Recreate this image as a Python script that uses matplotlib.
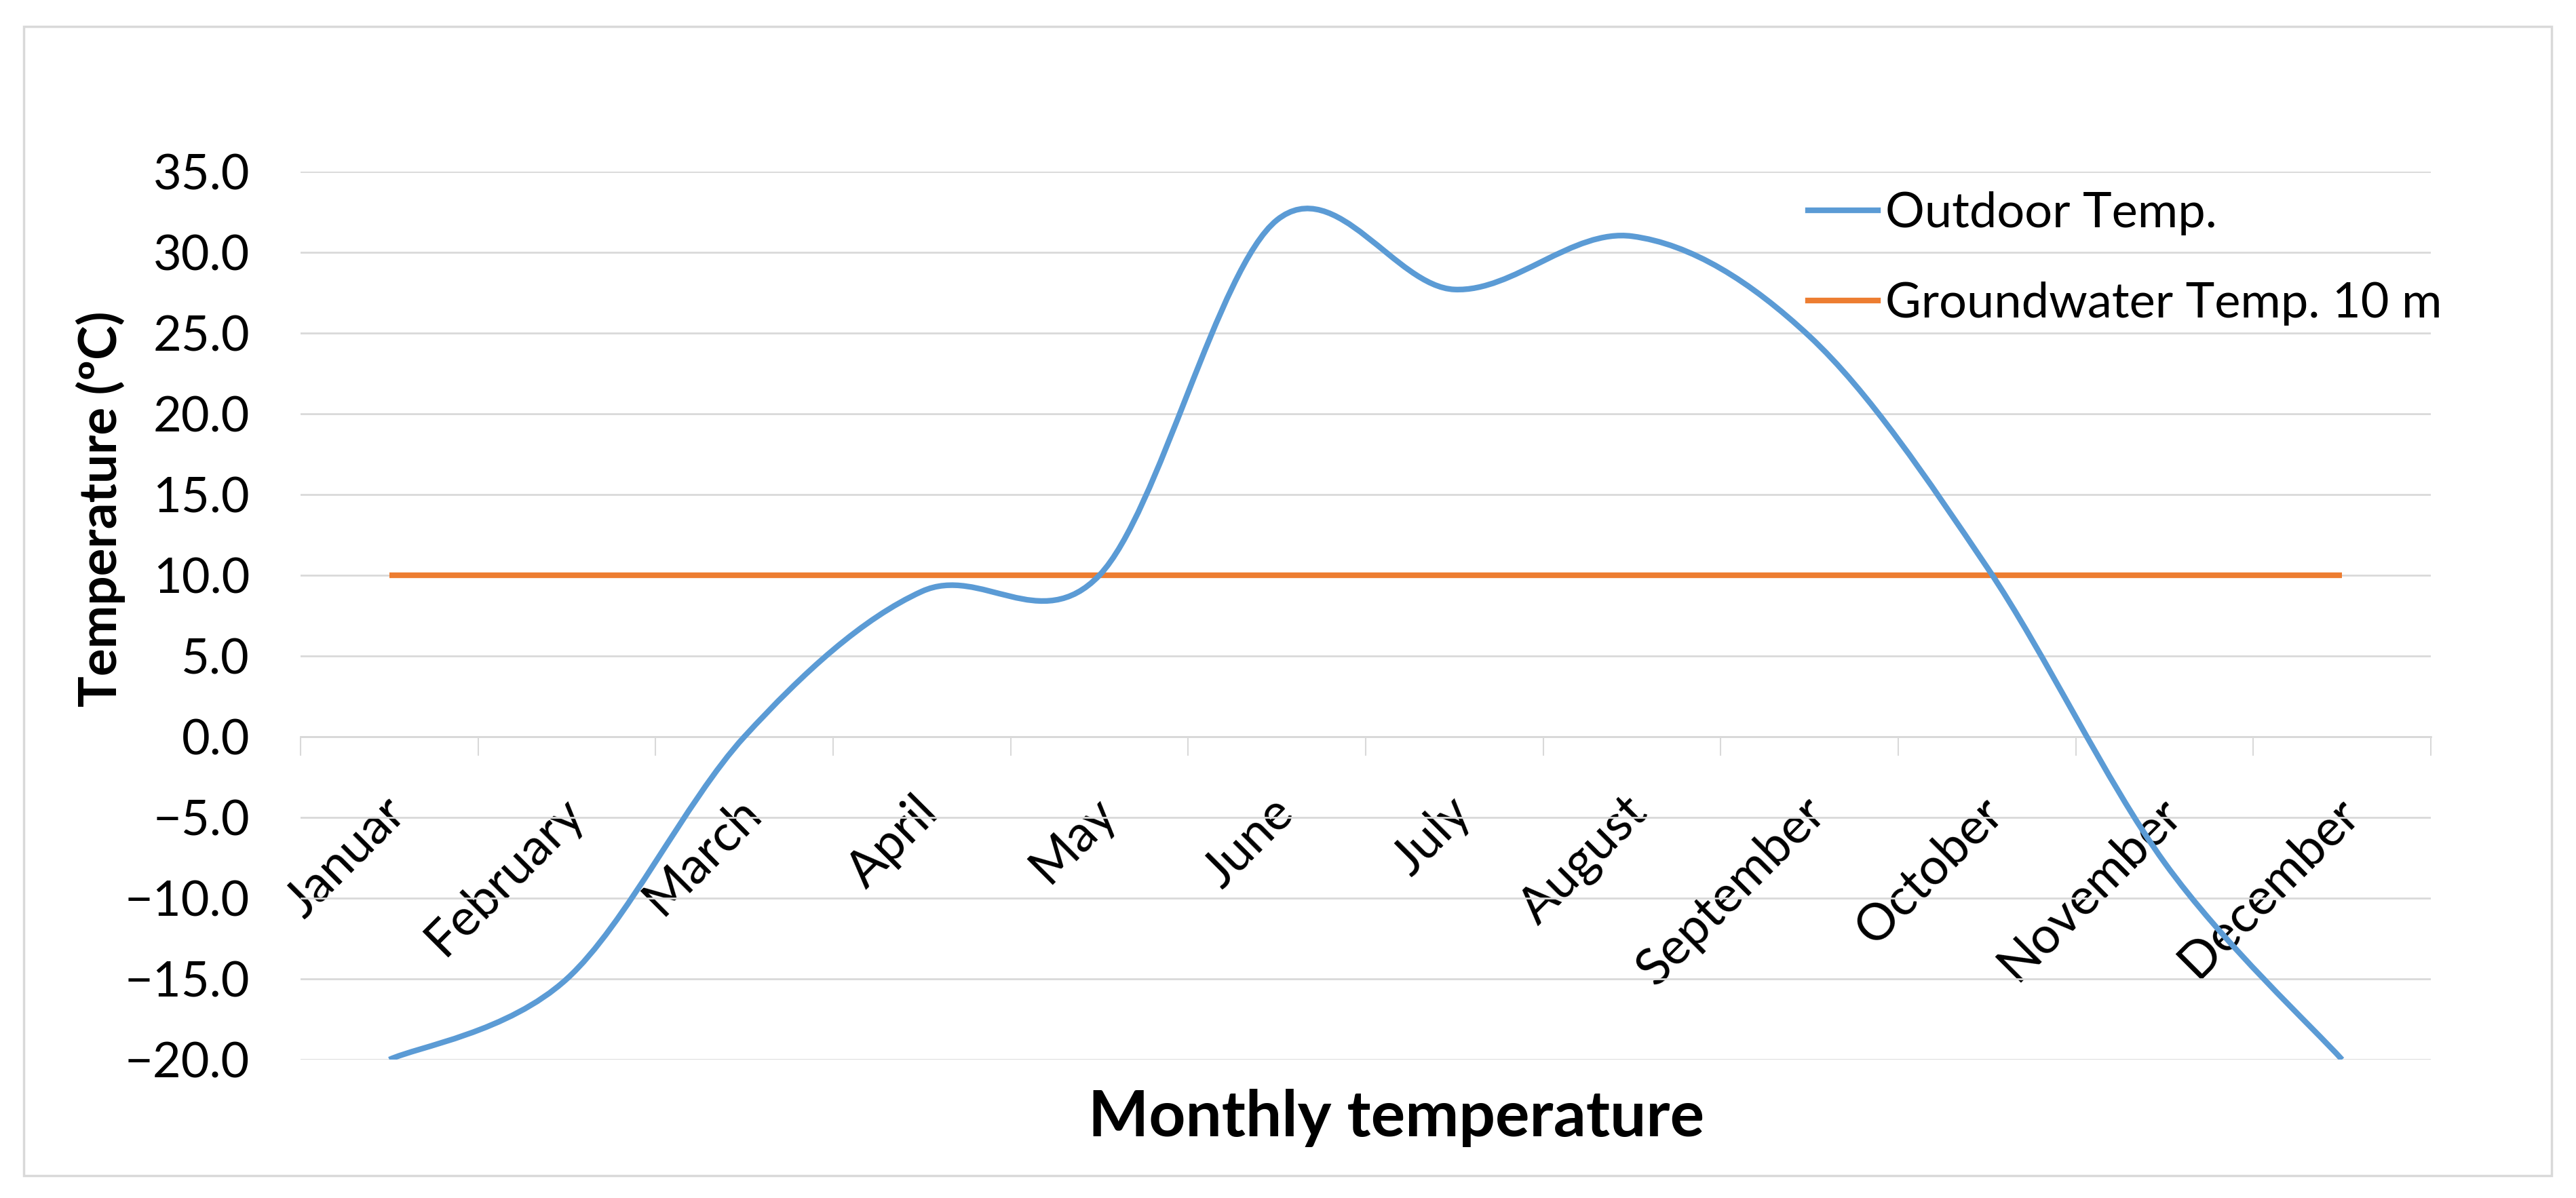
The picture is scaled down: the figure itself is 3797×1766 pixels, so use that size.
import numpy as np
import matplotlib
matplotlib.use('Agg')
import matplotlib.pyplot as plt
from matplotlib.path import Path
from matplotlib.patches import PathPatch, Rectangle
from matplotlib.lines import Line2D
from matplotlib.ticker import FixedLocator, FuncFormatter, NullFormatter
import matplotlib.transforms as mtransforms

plt.rcParams['font.family'] = ['Lato', 'DejaVu Sans']

months = ['Januar', 'February', 'March', 'April', 'May', 'June', 'July',
          'August', 'September', 'October', 'November', 'December']
outdoor_temp = [-20.0, -15.0, 0.0, 9.0, 10.0, 32.0, 27.7, 31.0, 24.8, 10.5, -7.8, -20.0]
groundwater_temp = [10.0, 10.0, 10.0, 10.0, 10.0, 10.0, 10.0, 10.0, 10.0, 10.0, 10.0, 10.0]
y_ticks = [-20, -15, -10, -5, 0, 5, 10, 15, 20, 25, 30, 35]

BLUE = '#5B9BD5'
ORANGE = '#ED7D31'
GRID = '#D9D9D9'
W, H = 3797, 1766
LW = 6


def smooth_path(xs, ys):
    # Excel-like smoothed line: cubic Bezier segments, control points at 1/6 of neighbour chord
    pts = np.column_stack([xs, ys]).astype(float)
    n = len(pts)
    verts = [pts[0]]
    codes = [Path.MOVETO]
    for i in range(n - 1):
        p_prev = pts[i - 1] if i > 0 else pts[i]
        p_next = pts[i + 2] if i + 2 < n else pts[i + 1]
        c1 = pts[i] + (pts[i + 1] - p_prev) / 6.0
        c2 = pts[i + 1] - (p_next - pts[i]) / 6.0
        verts += [c1, c2, pts[i + 1]]
        codes += [Path.CURVE4] * 3
    return Path(verts, codes)


fig = plt.figure(figsize=(W / 100, H / 100), dpi=100)
ax = fig.add_axes([443 / W, 1 - 1562 / H, (3583 - 443) / W, (1562 - 253) / H])

x = np.arange(1, len(months) + 1)
ax.plot(x, groundwater_temp, color=ORANGE, lw=LW, solid_capstyle='butt', zorder=3)
ax.add_patch(PathPatch(smooth_path(x, outdoor_temp), facecolor='none', edgecolor=BLUE,
                       lw=LW, capstyle='butt', zorder=4))

ax.set_xlim(0.5, 12.5)
ax.set_ylim(-20, 35)

# y axis
ax.set_yticks(y_ticks)
ax.yaxis.set_major_formatter(FuncFormatter(lambda v, p: f'{v:.1f}'.replace('-', '\u2212')))
ax.tick_params(axis='y', length=0, pad=54, labelsize=52)
ax.yaxis.grid(True, color=GRID, lw=2)
ax.set_axisbelow(True)

# category axis crossing at 0
for s in ['left', 'right', 'top']:
    ax.spines[s].set_visible(False)
ax.spines['bottom'].set_position(('data', 0))
ax.spines['bottom'].set_color(GRID)
ax.spines['bottom'].set_linewidth(2)
ax.xaxis.set_major_locator(FixedLocator(np.arange(0.5, 13, 1.0)))
ax.xaxis.set_major_formatter(NullFormatter())
ax.xaxis.set_minor_locator(FixedLocator(x))
ax.set_xticklabels(months, minor=True)
ax.tick_params(axis='x', which='major', length=20, width=1.5, color=GRID, direction='out')
ax.tick_params(axis='x', which='minor', length=0, pad=55, labelsize=54)
shift = mtransforms.ScaledTranslation(-12 / 100, 0, fig.dpi_scale_trans)
for lab in ax.get_xticklabels(minor=True):
    lab.set_rotation(45)
    lab.set_ha('right')
    lab.set_va('top')
    lab.set_rotation_mode('anchor')
    lab.set_transform(lab.get_transform() + shift)

ax.set_ylabel('Temperature (ºC)', fontsize=55, fontweight='bold')
ax.yaxis.set_label_coords(-0.0822, 0.62)
fig.text(2058 / W, 1 - 1675 / H, 'Monthly temperature', fontsize=68, fontweight='bold',
         ha='center', va='baseline')

handles = [Line2D([], [], color=BLUE, lw=LW), Line2D([], [], color=ORANGE, lw=LW)]
ax.legend(handles, ['Outdoor Temp.', 'Groundwater Temp. 10 m'], loc='center left',
          bbox_to_anchor=(2665 / W, 1 - 381 / H), bbox_transform=fig.transFigure,
          frameon=False, fontsize=52, handlelength=1.43, handletextpad=0.15,
          labelspacing=0.94, borderpad=0, borderaxespad=0)

# outer chart frame
fig.patches.append(Rectangle((35 / W, 1 - 1733 / H), (3761 - 35) / W, (1733 - 39) / H,
                             transform=fig.transFigure, fill=False, edgecolor=GRID, lw=2.5))

fig.savefig('out.png', dpi=100)
